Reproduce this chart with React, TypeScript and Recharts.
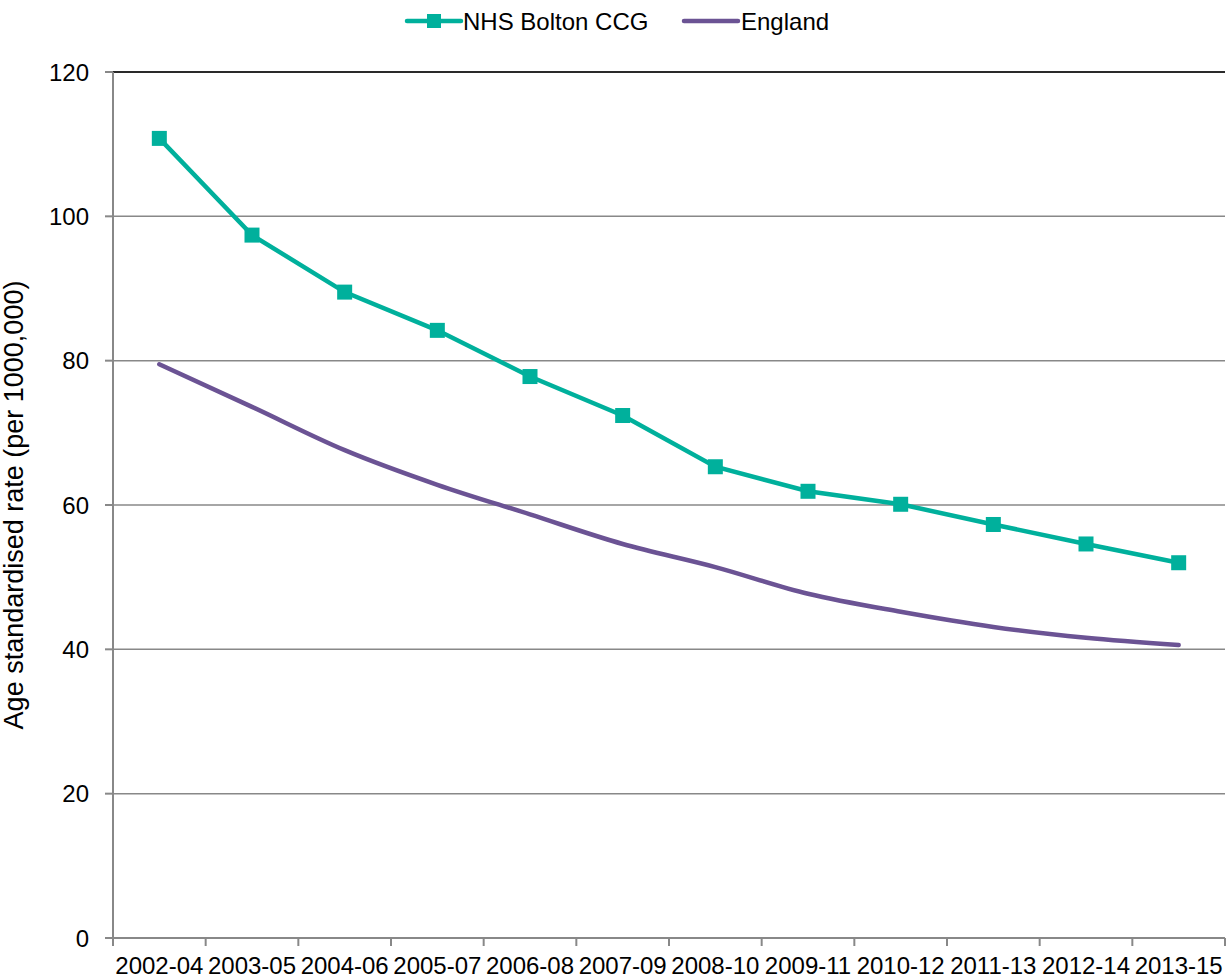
import React from 'react';
import { LineChart, Line, XAxis, YAxis, CartesianGrid, ReferenceLine } from 'recharts';

const periods = ['2002-04','2003-05','2004-06','2005-07','2006-08','2007-09','2008-10','2009-11','2010-12','2011-13','2012-14','2013-15'];
const bolton = [110.8, 97.4, 89.5, 84.2, 77.8, 72.4, 65.3, 61.9, 60.1, 57.3, 54.6, 52.0];
const england = [79.5, 73.6, 67.6, 62.8, 58.7, 54.6, 51.4, 47.7, 45.2, 43.1, 41.6, 40.6];
const yTicks = [0, 20, 40, 60, 80, 100, 120];

const data = periods.map((p, i) => ({ period: p, bolton: bolton[i], england: england[i] }));

const TEAL = '#00B09C';
const PURPLE = '#6B5394';
const FONT = 'Liberation Sans, Arial, sans-serif';
const HALF = 46.33;
const FS = 24;

const XTick = (props: any) => {
  const { x, y, payload, index } = props;
  const last = index === periods.length - 1;
  return (
    <g>
      <line x1={x - HALF} y1={y - 8} x2={x - HALF} y2={y} stroke="#888" strokeWidth={2} />
      {last && <line x1={x + HALF} y1={y - 8} x2={x + HALF} y2={y} stroke="#888" strokeWidth={2} />}
      <text x={x} y={y + 28} textAnchor="middle" fontSize={FS} fontFamily={FONT} fill="#000">{payload.value}</text>
    </g>
  );
};

const Square = (props: any) => {
  const { cx, cy } = props;
  if (cx == null || cy == null) return null;
  return <rect x={cx - 7.5} y={cy - 7.5} width={15} height={15} fill={TEAL} />;
};

export default function App() {
  return (
    <div style={{ position: 'absolute', left: 0, top: 0, width: 1227, height: 978, background: '#fff' }}>
      <svg width={1227} height={50} style={{ position: 'absolute', left: 0, top: 0 }}>
        <line x1={407} y1={21} x2={461} y2={21} stroke={TEAL} strokeWidth={4.5} strokeLinecap="round" />
        <rect x={427} y={14} width={14} height={14} fill={TEAL} />
        <text x={463} y={30} fontSize={FS} fontFamily={FONT} fill="#000">NHS Bolton CCG</text>
        <line x1={684} y1={21} x2={738} y2={21} stroke={PURPLE} strokeWidth={4.5} strokeLinecap="round" />
        <text x={741} y={30} fontSize={FS} fontFamily={FONT} fill="#000">England</text>
      </svg>
      <LineChart width={1227} height={978} data={data} margin={{ top: 72, right: 2, left: 53, bottom: 10 }} style={{ position: 'absolute', left: 0, top: 0 }}>
        <CartesianGrid vertical={false} stroke="#888" strokeWidth={1.5} />
        <XAxis dataKey="period" padding={{ left: HALF, right: HALF }} tickLine={false} axisLine={{ stroke: '#888', strokeWidth: 2 }} tick={<XTick />} height={30} interval={0} />
        <YAxis domain={[0, 120]} ticks={yTicks} width={60} axisLine={{ stroke: '#888', strokeWidth: 2 }} tickLine={{ stroke: '#888', strokeWidth: 2 }} tickSize={8} tickMargin={16}
          tick={{ fontSize: FS, fontFamily: FONT, fill: '#000' }}
          label={{ value: 'Age standardised rate (per 1000,000)', angle: -90, position: 'insideLeft', offset: -40, style: { fontSize: 27, fontFamily: FONT, fill: '#000', textAnchor: 'middle' } }} />
        <YAxis yAxisId="r" orientation="right" width={0} domain={[0, 120]} tick={false} tickLine={false} axisLine={{ stroke: '#222', strokeWidth: 1.5 }} />
        <ReferenceLine y={120} stroke="#000" strokeWidth={1.5} />
        <Line dataKey="england" type="monotone" stroke={PURPLE} strokeWidth={4.5} strokeLinecap="round" dot={false} isAnimationActive={false} />
        <Line dataKey="bolton" type="linear" stroke={TEAL} strokeWidth={4.5} dot={<Square />} activeDot={false} isAnimationActive={false} />
      </LineChart>
    </div>
  );
}
